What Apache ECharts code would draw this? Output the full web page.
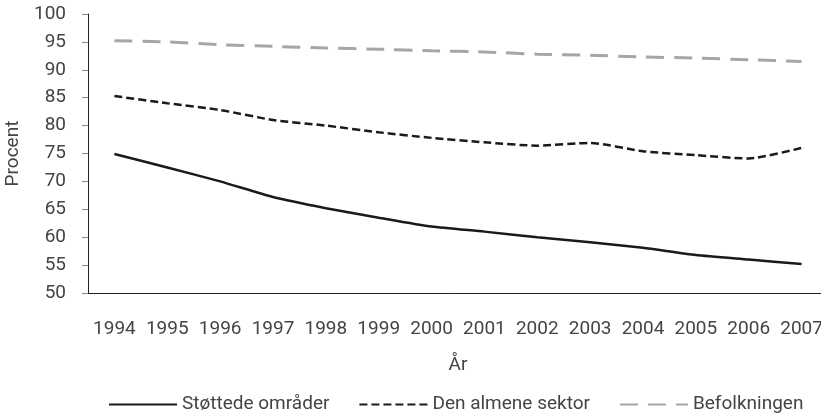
<!DOCTYPE html>
<html>
<head>
<meta charset="utf-8">
<script src="https://cdn.jsdelivr.net/npm/echarts@6/dist/echarts.min.js"></script>
<style>
  html, body { margin: 0; padding: 0; background: #fff; }
  #chart { width: 821px; height: 416px; }
</style>
</head>
<body>
<div id="chart"></div>
<script>
var years = ['1994', '1995', '1996', '1997', '1998', '1999', '2000',
  '2001', '2002', '2003', '2004', '2005', '2006', '2007'];
var stottede = [74.9, 72.5, 70.0, 67.2, 65.2, 63.5, 61.9, 61.0, 60.0, 59.1, 58.1, 56.8, 56.0, 55.2];
var almene = [85.3, 84.0, 82.8, 81.0, 80.0, 78.8, 77.8, 77.0, 76.4, 76.9, 75.4, 74.7, 74.1, 76.0];
var befolkningen = [95.2, 95.0, 94.5, 94.2, 93.9, 93.7, 93.4, 93.2, 92.8, 92.6, 92.3, 92.1, 91.8, 91.5];

var font = 'Roboto, sans-serif';
var txt = '#444';
var chart = echarts.init(document.getElementById('chart'));

chart.setOption({
  animation: false,
  textStyle: {fontFamily: font},
  grid: {left: 88, top: 14, right: -7, bottom: 123, containLabel: false, outerBoundsMode: 'none'},
  legend: {
    top: 390,
    left: 103,
    itemWidth: 68,
    itemHeight: 12,
    itemGap: 29,
    itemStyle: {opacity: 0},
    textStyle: {fontSize: 19, color: txt, fontFamily: font},
    data: ['Støttede områder', 'Den almene sektor', 'Befolkningen']
  },
  xAxis: {
    type: 'category',
    data: years,
    name: 'År',
    nameLocation: 'middle',
    nameGap: 63,
    nameTextStyle: {fontSize: 19, color: txt},
    axisLine: {lineStyle: {color: '#222', width: 1}},
    axisTick: {length: 6, lineStyle: {color: '#888'}},
    axisLabel: {fontSize: 19, color: txt, margin: 27, interval: 0, hideOverlap: false}
  },
  yAxis: {
    type: 'value',
    min: 50,
    max: 100,
    interval: 5,
    name: 'Procent',
    nameLocation: 'middle',
    nameGap: 59,
    nameTextStyle: {fontSize: 19, color: txt},
    splitLine: {show: false},
    axisLine: {show: true, lineStyle: {color: '#222', width: 1}},
    axisTick: {show: true, length: 6, lineStyle: {color: '#888'}},
    axisLabel: {fontSize: 19, color: txt, margin: 22}
  },
  series: [
    {
      name: 'Støttede områder', type: 'line', data: stottede,
      symbol: 'none', smooth: 0.2,
      lineStyle: {color: '#1a1a1a', width: 2.5, type: 'solid'},
      itemStyle: {color: '#1a1a1a'}
    },
    {
      name: 'Den almene sektor', type: 'line', data: almene,
      symbol: 'none', smooth: 0.2,
      lineStyle: {color: '#1a1a1a', width: 2.5, type: [8, 4]},
      itemStyle: {color: '#1a1a1a'}
    },
    {
      name: 'Befolkningen', type: 'line', data: befolkningen,
      symbol: 'none', smooth: 0.2,
      lineStyle: {color: '#a6a6a6', width: 3, type: [18, 10]},
      itemStyle: {color: '#a6a6a6'}
    }
  ]
});
</script>
</body>
</html>
